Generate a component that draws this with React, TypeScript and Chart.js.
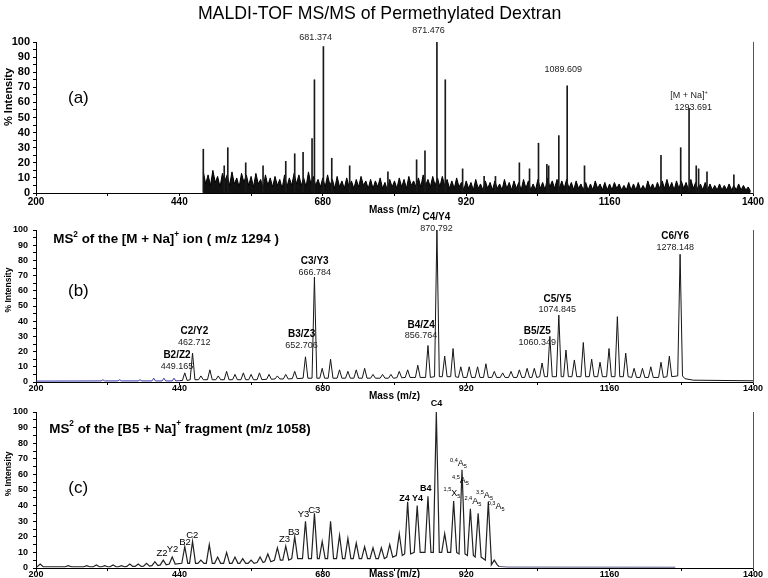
import React, { useEffect, useRef } from 'react';
import { Chart, registerables } from 'chart.js';

Chart.register(...registerables);

const FAMILY = '"Liberation Sans", Arial, Helvetica, sans-serif';
Chart.defaults.font.family = FAMILY;
Chart.defaults.color = '#000';

// ---------- shared axes ----------
const X_MIN = 200;
const X_MAX = 1400;
const X_MINOR_STEP = 120;
const X_TICK_LABELS = [200, 440, 680, 920, 1160, 1400];
const Y_MIN = 0;
const Y_MAX = 100;
const Y_STEP = 5;
const Y_TICK_LABELS = [0, 10, 20, 30, 40, 50, 60, 70, 80, 90, 100];

// ---------- panel (a): MALDI-TOF MS ----------
const aNoiseStart = 480;
const aNoiseStep = 4;
const aNoise = [
  14, 6, 12, 5, 15, 7, 11, 4, 13, 8,
  12, 5, 14, 6, 10, 4, 13, 7, 12, 5,
  11, 4, 13, 6, 9, 3, 12, 5, 10, 4,
  11, 5, 9, 3, 12, 4, 10, 5, 13, 6,
  12, 5, 10, 4, 14, 6, 11, 5, 9, 4,
  10, 4, 12, 5, 9, 3, 11, 4, 8, 3,
  10, 4, 8, 3, 9, 4, 11, 5, 8, 3,
  9, 3, 8, 4, 10, 3, 7, 2, 9, 4,
  8, 3, 10, 4, 9, 3, 11, 5, 8, 4,
  10, 4, 12, 5, 9, 4, 11, 5, 10, 4,
  11, 5, 9, 3, 8, 3, 10, 4, 7, 2,
  8, 3, 7, 2, 9, 3, 6, 2, 8, 3,
  7, 2, 8, 3, 6, 2, 9, 3, 7, 2,
  8, 3, 7, 2, 9, 3, 8, 2, 6, 2,
  9, 3, 7, 2, 10, 4, 8, 3, 9, 3,
  8, 3, 9, 3, 7, 2, 8, 3, 6, 2,
  7, 2, 6, 2, 8, 3, 6, 2, 7, 2,
  6, 2, 7, 3, 6, 2, 5, 2, 7, 2,
  6, 2, 7, 2, 5, 2, 8, 3, 6, 2,
  7, 3, 8, 3, 9, 3, 7, 2, 8, 3,
  8, 3, 7, 2, 9, 3, 7, 2, 6, 2,
  7, 2, 6, 2, 5, 2, 6, 2, 5, 2,
  6, 2, 5, 2, 6, 2, 5, 2, 4, 1,
];
const aPeakMz = [
  480, 515, 521, 551, 580, 618, 633, 647, 662, 666, 681, 695, 725, 789, 837, 851, 871, 885,
  914, 950, 969, 1009, 1026, 1041, 1055, 1058, 1075, 1089, 1118, 1246, 1279, 1293, 1305, 1309,
  1323, 1368,
];
const aPeakInt = [
  29, 18, 30, 20, 18, 21, 26, 27, 36, 75, 97, 23, 18, 14, 22, 28, 100, 75,
  16, 11, 11, 20, 16, 33, 19, 18, 38, 71, 18, 25, 30, 56, 18, 16,
  14, 12,
];

// ---------- panel (b): MS2 of [M+Na]+ ----------
const bLowMz = [200, 312, 340, 374, 397, 414, 431, 440];
const bLowInt = [0.6, 1.5, 1.5, 1.5, 2.5, 2.5, 2.5, 0.9];
const bPeakMz = [
  449, 462, 476, 491, 505, 519, 533, 547, 560, 574, 590, 604, 618, 633, 651, 666, 679, 693,
  708, 722, 736, 750, 764, 780, 794, 808, 822, 839, 856, 871, 884, 898, 911, 925, 939, 953,
  967, 981, 995, 1009, 1022, 1034, 1047, 1060, 1075, 1087, 1101, 1116, 1130, 1144, 1159, 1173,
  1187, 1201, 1215, 1229, 1246, 1260, 1278,
];
const bPeakInt = [
  6, 19, 4, 8, 4, 7, 5, 6, 5, 6, 5, 4, 5, 7, 16.6, 69, 9, 15,
  8, 7, 8, 9, 5, 5, 5, 7, 8, 11, 24, 100, 17, 22, 10, 10, 10, 12,
  7, 6, 7, 8, 9, 9, 12.5, 30, 44, 21, 14.5, 26, 15, 13, 22, 43,
  19, 9, 9, 10, 13, 17, 84,
];
const bValley = [
  1, 1.5, 1.5, 1.5, 1.5, 1.5, 1.5, 1.5, 1.5, 1.5, 1.8, 2, 2, 2.2, 2.5, 2.5, 2.5, 2.5,
  2.5, 2.5, 2.5, 2.5, 2.5, 2.5, 2.5, 2.8, 3, 3, 3, 3.5, 3.5, 3.5, 3, 3, 3, 3,
  3, 3, 3, 3, 3, 3, 3.5, 3.5, 3.5, 3.5, 3.5, 3.5, 3.5, 3.5, 3.5, 3.5,
  3.5, 3, 3, 3, 3, 3.5, 4,
];
const bTailMz = [1286, 1300, 1400];
const bTailInt = [2.2, 1.2, 0.8];

// ---------- panel (c): MS2 of [B5+Na]+ ----------
const cPeakMz = [
  207, 254, 285, 301, 315, 329, 343, 357, 371, 385, 399, 413, 428, 449, 462, 476, 490, 504,
  519, 533, 546, 560, 575, 588, 604, 618, 633, 651, 666, 679, 693, 708, 722, 736, 750, 764,
  778, 792, 808, 822, 838, 856, 870, 884, 899, 913, 927, 940, 957, 967,
];
const cPeakInt = [
  2.5, 1.5, 1.5, 2, 1.5, 2, 1.5, 2.5, 2.5, 3, 4, 5, 7, 13.7, 17, 5, 15, 7,
  10, 7, 6, 5, 7, 9, 13, 14, 20, 30, 35, 17, 30, 21, 19, 16, 13.7, 13,
  13, 15, 22, 42.5, 40, 46, 100, 22, 43, 63, 38, 35, 42.5, 5,
];
const cValley = [
  0.8, 0.8, 0.8, 0.8, 0.8, 0.8, 0.8, 1, 1, 1.2, 1.5, 2, 2.5, 3, 3, 3, 3, 3,
  3, 3, 3, 3, 3.5, 4, 5, 5, 6, 6, 6, 6, 6, 6, 6, 6, 6, 6,
  6, 7, 8, 9, 10, 10, 10, 10, 10, 9, 8, 7, 5, 2,
];
const cTailMz = [975, 990, 1270];
const cTailInt = [1, 0.6, 0.5];

// ---------- text ----------
type Seg = { t: string; s?: 'sup' | 'sub' };
type TextItem = {
  m?: number;
  px?: number;
  y: number;
  parts: Seg[];
  size: number;
  weight?: string;
  align?: 'left' | 'center' | 'right';
  color?: string;
  rotate?: boolean;
  dy?: number;
};

const T = (t: string): Seg[] => [{ t }];
const SUPA = (pre: string, letter: string, sub: string): Seg[] => [
  { t: pre, s: 'sup' },
  { t: letter },
  { t: sub, s: 'sub' },
];

const aTexts: TextItem[] = [
  { m: 775, y: 118.7, parts: T('MALDI-TOF MS/MS of Permethylated Dextran'), size: 17.7, align: 'center' },
  { m: 253.5, y: 62.9, parts: T('(a)'), size: 17 },
  { px: 9, y: 63.6, parts: T('% Intensity'), size: 11, weight: 'bold', align: 'center', rotate: true },
  { m: 668, y: 103.1, parts: T('681.374'), size: 9, align: 'center', color: '#222' },
  { m: 857, y: 107.5, parts: T('871.476'), size: 9, align: 'center', color: '#222' },
  { m: 1082.5, y: 81.5, parts: T('1089.609'), size: 9, align: 'center', color: '#222' },
  { m: 1293, y: 64.4, parts: [{ t: '[M + Na]' }, { t: '+', s: 'sup' }], size: 9, align: 'center', color: '#222' },
  { m: 1300, y: 56.5, parts: T('1293.691'), size: 9, align: 'center', color: '#222' },
];

const bPairs: { m: number; y: number; top: string; num: string }[] = [
  { m: 436, y: 10.1, top: 'B2/Z2', num: '449.165' },
  { m: 465, y: 26.1, top: 'C2/Y2', num: '462.712' },
  { m: 644.5, y: 24.3, top: 'B3/Z3', num: '652.706' },
  { m: 666.5, y: 71.9, top: 'C3/Y3', num: '666.784' },
  { m: 844.5, y: 30.3, top: 'B4/Z4', num: '856.764' },
  { m: 870.2, y: 101.1, top: 'C4/Y4', num: '870.792' },
  { m: 1039, y: 26.1, top: 'B5/Z5', num: '1060.349' },
  { m: 1072.5, y: 47.4, top: 'C5/Y5', num: '1074.845' },
  { m: 1269.7, y: 88.6, top: 'C6/Y6', num: '1278.148' },
];

const bTexts: TextItem[] = [
  {
    m: 228.9, y: 93.75, size: 13.4, weight: 'bold',
    parts: [{ t: 'MS' }, { t: '2', s: 'sup' }, { t: ' of the [M + Na]' }, { t: '+', s: 'sup' }, { t: ' ion ( m/z 1294 )' }],
  },
  { m: 253.5, y: 59.4, parts: T('(b)'), size: 17 },
  { px: 9, y: 60.5, parts: T('% Intensity'), size: 8.5, weight: 'bold', align: 'center', rotate: true },
  ...bPairs.flatMap((p) => [
    { m: p.m, y: p.y, parts: T(p.top), size: 10, weight: 'bold', align: 'center' as const, dy: -11 },
    { m: p.m, y: p.y, parts: T(p.num), size: 9, align: 'center' as const, color: '#222' },
  ]),
];

const cTexts: TextItem[] = [
  {
    m: 222.2, y: 89.2, size: 13.4, weight: 'bold',
    parts: [{ t: 'MS' }, { t: '2', s: 'sup' }, { t: ' of the [B5 + Na]' }, { t: '+', s: 'sup' }, { t: ' fragment (m/z 1058)' }],
  },
  { m: 254, y: 51.1, parts: T('(c)'), size: 17 },
  { px: 9, y: 60.3, parts: T('% Intensity'), size: 8.5, weight: 'bold', align: 'center', rotate: true },
  { m: 870.2, y: 105.6, parts: T('C4'), size: 9, weight: 'bold', align: 'center' },
  { m: 816.7, y: 44.7, parts: T('Z4'), size: 9, weight: 'bold', align: 'center' },
  { m: 838.5, y: 44.7, parts: T('Y4'), size: 9, weight: 'bold', align: 'center' },
  { m: 852.2, y: 51.1, parts: T('B4'), size: 9, weight: 'bold', align: 'center' },
  { m: 665.8, y: 37.2, parts: T('C3'), size: 9.5, align: 'center' },
  { m: 647.6, y: 34.6, parts: T('Y3'), size: 9.5, align: 'center' },
  { m: 631.3, y: 22.6, parts: T('B3'), size: 9.5, align: 'center' },
  { m: 616, y: 18.4, parts: T('Z3'), size: 9.5, align: 'center' },
  { m: 461.6, y: 21.2, parts: T('C2'), size: 9.5, align: 'center' },
  { m: 449.5, y: 16.2, parts: T('B2'), size: 9.5, align: 'center' },
  { m: 428.6, y: 12, parts: T('Y2'), size: 9.5, align: 'center' },
  { m: 411, y: 9.4, parts: T('Z2'), size: 9.5, align: 'center' },
  { m: 893, y: 66.7, parts: SUPA('0,4', 'A', '5'), size: 9, align: 'left' },
  { m: 896.4, y: 55.8, parts: SUPA('4,5', 'A', '5'), size: 9, align: 'left' },
  { m: 882, y: 47.9, parts: SUPA('1,5', 'X', '5'), size: 9, align: 'left' },
  { m: 917, y: 42.5, parts: SUPA('2,4', 'A', '5'), size: 9, align: 'left' },
  { m: 936.6, y: 46.2, parts: SUPA('3,5', 'A', '5'), size: 9, align: 'left' },
  { m: 956, y: 39.3, parts: SUPA('0,3', 'A', '5'), size: 9, align: 'left' },
];

function drawRich(ctx: CanvasRenderingContext2D, it: TextItem, x: number, y: number) {
  const w = it.weight || 'normal';
  const fontFor = (s?: string) => `${w} ${s ? it.size * 0.62 : it.size}px ${FAMILY}`;
  const widths = it.parts.map((p) => {
    ctx.font = fontFor(p.s);
    return ctx.measureText(p.t).width;
  });
  const total = widths.reduce((a, b) => a + b, 0);
  let cx = it.align === 'center' ? x - total / 2 : it.align === 'right' ? x - total : x;
  ctx.textAlign = 'left';
  ctx.textBaseline = 'middle';
  ctx.fillStyle = it.color || '#000';
  it.parts.forEach((p, i) => {
    ctx.font = fontFor(p.s);
    const off = p.s === 'sup' ? -it.size * 0.38 : p.s === 'sub' ? it.size * 0.3 : 0;
    ctx.fillText(p.t, cx, y + off);
    cx += widths[i];
  });
}

function textPlugin(items: TextItem[]) {
  return {
    id: 'panelTexts',
    afterDraw(chart: any) {
      const ctx: CanvasRenderingContext2D = chart.ctx;
      const xs = chart.scales.x;
      const ys = chart.scales.y;
      for (const it of items) {
        const y = ys.getPixelForValue(it.y) + (it.dy || 0);
        ctx.save();
        if (it.rotate) {
          ctx.translate(it.px || 0, y);
          ctx.rotate(-Math.PI / 2);
          drawRich(ctx, it, 0, 0);
        } else {
          drawRich(ctx, it, xs.getPixelForValue(it.m || 0), y);
        }
        ctx.restore();
      }
    },
  };
}

// ---------- helpers ----------
function profile(mz: number[], inten: number[], valley: number[], half: number) {
  const pts: { x: number; y: number }[] = [];
  mz.forEach((m, i) => {
    pts.push({ x: m - half, y: valley[i] }, { x: m, y: inten[i] }, { x: m + half, y: valley[i] });
  });
  return pts;
}
const pairs = (mz: number[], inten: number[]) => mz.map((m, i) => ({ x: m, y: inten[i] }));

type PanelCfg = {
  padTop: number;
  xAxisH: number;
  xTickSize: number;
  xTickPad: number;
  yTickSize: number;
  yTickPad: number;
};

function baseOptions(cfg: PanelCfg): any {
  return {
    responsive: false,
    animation: false,
    events: [],
    layout: { padding: { top: cfg.padTop, left: 0, right: 15, bottom: 0 } },
    plugins: { legend: { display: false }, tooltip: { enabled: false }, title: { display: false } },
    elements: { point: { radius: 0 }, line: { tension: 0 } },
    scales: {
      x: {
        type: 'linear',
        min: X_MIN,
        max: X_MAX,
        offset: false,
        afterFit: (s: any) => {
          s.height = cfg.xAxisH;
        },
        ticks: {
          stepSize: X_MINOR_STEP,
          autoSkip: false,
          maxRotation: 0,
          minRotation: 0,
          padding: cfg.xTickPad,
          color: '#000',
          font: { family: FAMILY, size: cfg.xTickSize, weight: 'bold' },
          callback: (v: number) => (X_TICK_LABELS.includes(v) ? String(v) : ''),
        },
        grid: { drawOnChartArea: false, drawTicks: true, tickLength: 3, color: '#000', offset: false },
        border: { display: true, color: '#000', width: 1 },
        title: {
          display: true,
          text: 'Mass (m/z)',
          color: '#000',
          padding: 0,
          font: { family: FAMILY, size: 10, weight: 'bold' },
        },
      },
      y: {
        type: 'linear',
        position: 'left',
        min: Y_MIN,
        max: Y_MAX,
        afterFit: (s: any) => {
          s.width = 36;
        },
        ticks: {
          stepSize: Y_STEP,
          autoSkip: false,
          padding: cfg.yTickPad,
          color: '#000',
          font: { family: FAMILY, size: cfg.yTickSize, weight: 'bold' },
          callback: (v: number) => (Y_TICK_LABELS.includes(v) ? String(v) : ''),
        },
        grid: { drawOnChartArea: false, drawTicks: true, tickLength: 3, color: '#000' },
        border: { display: true, color: '#000', width: 1 },
      },
      y2: {
        type: 'linear',
        position: 'right',
        min: Y_MIN,
        max: Y_MAX,
        afterFit: (s: any) => {
          s.width = 0;
        },
        ticks: { display: false },
        grid: { drawOnChartArea: false, drawTicks: false },
        border: { display: true, color: '#555', width: 1 },
      },
    },
  };
}

function makeA(canvas: HTMLCanvasElement) {
  return new Chart(canvas, {
    type: 'line',
    data: {
      datasets: [
        {
          type: 'bar',
          data: pairs(aPeakMz, aPeakInt),
          backgroundColor: '#1a1a1a',
          borderWidth: 0,
          barThickness: 1,
          order: 1,
        } as any,
        {
          type: 'line',
          data: aNoise.map((v, i) => ({ x: aNoiseStart + i * aNoiseStep, y: v })),
          borderColor: '#000',
          borderWidth: 1,
          backgroundColor: '#111',
          fill: 'origin',
          pointRadius: 0,
          order: 2,
        } as any,
      ],
    },
    options: baseOptions({ padTop: 42, xAxisH: 23, xTickSize: 10, xTickPad: 0, yTickSize: 11, yTickPad: 3 }),
    plugins: [textPlugin(aTexts)],
  } as any);
}

function makeB(canvas: HTMLCanvasElement) {
  const main = [
    { x: bLowMz[bLowMz.length - 1], y: bLowInt[bLowInt.length - 1] },
    ...profile(bPeakMz, bPeakInt, bValley, 4),
    ...pairs(bTailMz, bTailInt),
  ];
  const low = bLowMz.flatMap((m, i) =>
    i === 0 || i === bLowMz.length - 1
      ? [{ x: m, y: bLowInt[i] }]
      : [{ x: m - 3, y: 0.7 }, { x: m, y: bLowInt[i] }, { x: m + 3, y: 0.7 }]
  );
  return new Chart(canvas, {
    type: 'line',
    data: {
      datasets: [
        { data: low, borderColor: '#3535a8', borderWidth: 1, pointRadius: 0, fill: false },
        { data: main, borderColor: '#151515', borderWidth: 1, pointRadius: 0, fill: false },
      ],
    },
    options: baseOptions({ padTop: 30, xAxisH: 20, xTickSize: 9, xTickPad: -2, yTickSize: 9, yTickPad: 5 }),
    plugins: [textPlugin(bTexts)],
  } as any);
}

function makeC(canvas: HTMLCanvasElement) {
  const main = [
    { x: X_MIN, y: 0.8 },
    ...profile(cPeakMz, cPeakInt, cValley, 5),
    { x: cTailMz[0], y: cTailInt[0] },
  ];
  return new Chart(canvas, {
    type: 'line',
    data: {
      datasets: [
        { data: pairs(cTailMz, cTailInt), borderColor: '#5a5a80', borderWidth: 1, pointRadius: 0, fill: false },
        { data: main, borderColor: '#222', borderWidth: 1.2, pointRadius: 0, fill: false },
      ],
    },
    options: baseOptions({ padTop: 22, xAxisH: 12, xTickSize: 9, xTickPad: -2, yTickSize: 9, yTickPad: 5 }),
    plugins: [textPlugin(cTexts)],
  } as any);
}

export default function App() {
  const refA = useRef<HTMLCanvasElement>(null);
  const refB = useRef<HTMLCanvasElement>(null);
  const refC = useRef<HTMLCanvasElement>(null);

  useEffect(() => {
    const charts = [makeA(refA.current!), makeB(refB.current!), makeC(refC.current!)];
    return () => charts.forEach((c) => c.destroy());
  }, []);

  return (
    <div style={{ position: 'absolute', left: 0, top: 0, width: 768, height: 578, background: '#fff', overflow: 'hidden' }}>
      <canvas ref={refA} width={768} height={216} style={{ position: 'absolute', left: 0, top: 0 }} />
      <canvas ref={refB} width={768} height={202} style={{ position: 'absolute', left: 0, top: 200 }} />
      <canvas ref={refC} width={768} height={190} style={{ position: 'absolute', left: 0, top: 390 }} />
    </div>
  );
}
